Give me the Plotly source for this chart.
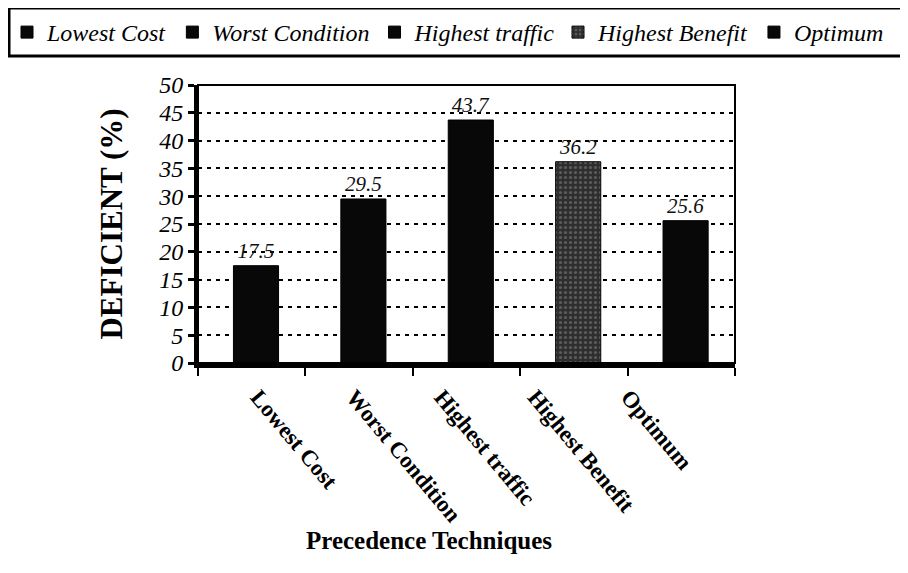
import plotly.graph_objects as go

categories = ["Lowest Cost", "Worst Condition", "Highest traffic", "Highest Benefit", "Optimum"]
values = [17.5, 29.5, 43.7, 36.2, 25.6]
value_labels = ["17.5", "29.5", "43.7", "36.2", "25.6"]
y_ticks = [0, 5, 10, 15, 20, 25, 30, 35, 40, 45, 50]
bar_colors = ["#080808", "#080808", "#080808", "#2e2e2e", "#080808"]
legend_ids = ["legend", "legend", "legend", "legend2", "legend2"]
# where the slanted category labels sit along the axis (in category units)
label_pos = [0.06, 0.95, 1.77, 2.64, 3.51]

SERIF = "Liberation Serif, Times New Roman, serif"

# page body offset and plot-area geometry (screen pixels)
OFF = 8
W, H = 908, 573
L = 198 - OFF
T = 85 - OFF
PW = 537
PH = 278
R = W - L - PW
B = H - T - PH


def px_x(x):
    return (x - OFF - L) / PW


def px_y(y):
    return (T + PH - (y - OFF)) / PH


fig = go.Figure()
for cat, val, lab, col, lg in zip(categories, values, value_labels, bar_colors, legend_ids):
    marker = dict(color=col, line=dict(color="#000", width=1))
    if col != "#080808":
        marker["pattern"] = dict(shape=".", fgcolor="#8a8a8a", bgcolor=col, size=5, solidity=0.3)
    fig.add_trace(go.Bar(
        x=[cat], y=[val], name=cat, text=[lab], textposition="outside",
        textfont=dict(family=SERIF, size=21, color="#111", style="italic"),
        marker=marker, width=0.42, offset=-0.17, cliponaxis=False, legend=lg,
    ))

# carrier for the slanted category labels on an overlaying axis
fig.add_trace(go.Scatter(
    x=label_pos, y=[0] * len(label_pos), xaxis="x2", mode="none",
    showlegend=False, hoverinfo="skip",
))

legend_font = dict(family=SERIF, size=24, style="italic", color="#000")
fig.update_layout(
    width=W, height=H,
    paper_bgcolor="white", plot_bgcolor="white",
    barmode="overlay",
    margin=dict(l=L, r=R, t=T, b=B, autoexpand=False),
    font=dict(family=SERIF, color="#000"),
    legend=dict(
        orientation="h", x=px_x(7), xanchor="left", y=px_y(10), yanchor="top",
        borderwidth=0, bgcolor="rgba(0,0,0,0)", font=legend_font,
        itemwidth=30, tracegroupgap=0,
    ),
    legend2=dict(
        orientation="h", x=px_x(558), xanchor="left", y=px_y(10), yanchor="top",
        borderwidth=0, bgcolor="rgba(0,0,0,0)", font=legend_font,
        itemwidth=30, tracegroupgap=0,
    ),
    showlegend=True,
    xaxis=dict(
        tickson="boundaries", showticklabels=False,
        ticks="outside", ticklen=8, tickwidth=2, tickcolor="#000",
        showline=True, linecolor="#000", linewidth=5,
    ),
    xaxis2=dict(
        overlaying="x", anchor="y", side="bottom",
        range=[-0.5, len(categories) - 0.5],
        tickmode="array", tickvals=label_pos, ticktext=categories,
        tickangle=50, ticks="", showline=False, showgrid=False, zeroline=False,
        tickfont=dict(family=SERIF, size=23, color="#000", weight="bold"),
        ticklabelstandoff=15,
    ),
)

fig.update_yaxes(
    range=[0, 50], tickvals=y_ticks, ticktext=[str(t) for t in y_ticks],
    tickfont=dict(family=SERIF, size=24, style="italic", color="#000"),
    ticks="outside", ticklen=6, tickwidth=3, tickcolor="#000",
    showline=True, linecolor="#000", linewidth=4,
    showgrid=True, gridcolor="#000", gridwidth=2, griddash="4px,5px",
    zeroline=False,
    title=dict(text="<b>DEFICIENT (%)</b>", font=dict(family=SERIF, size=31, color="#000"), standoff=27),
)

fig.add_annotation(
    text="<b>Precedence Techniques</b>", xref="paper", yref="paper",
    x=px_x(429), y=px_y(540), xanchor="center", yanchor="middle", showarrow=False,
    font=dict(family=SERIF, size=25, color="#000"),
)

# plot frame
fig.add_shape(type="rect", xref="paper", yref="paper", x0=0, x1=1, y0=0, y1=1,
              line=dict(color="#000", width=2), layer="above")
# legend box
fig.add_shape(type="rect", xref="paper", yref="paper",
              x0=px_x(9), x1=px_x(915), y0=px_y(56), y1=px_y(8),
              line=dict(color="#000", width=3), layer="above")

fig.write_html("out.html")
